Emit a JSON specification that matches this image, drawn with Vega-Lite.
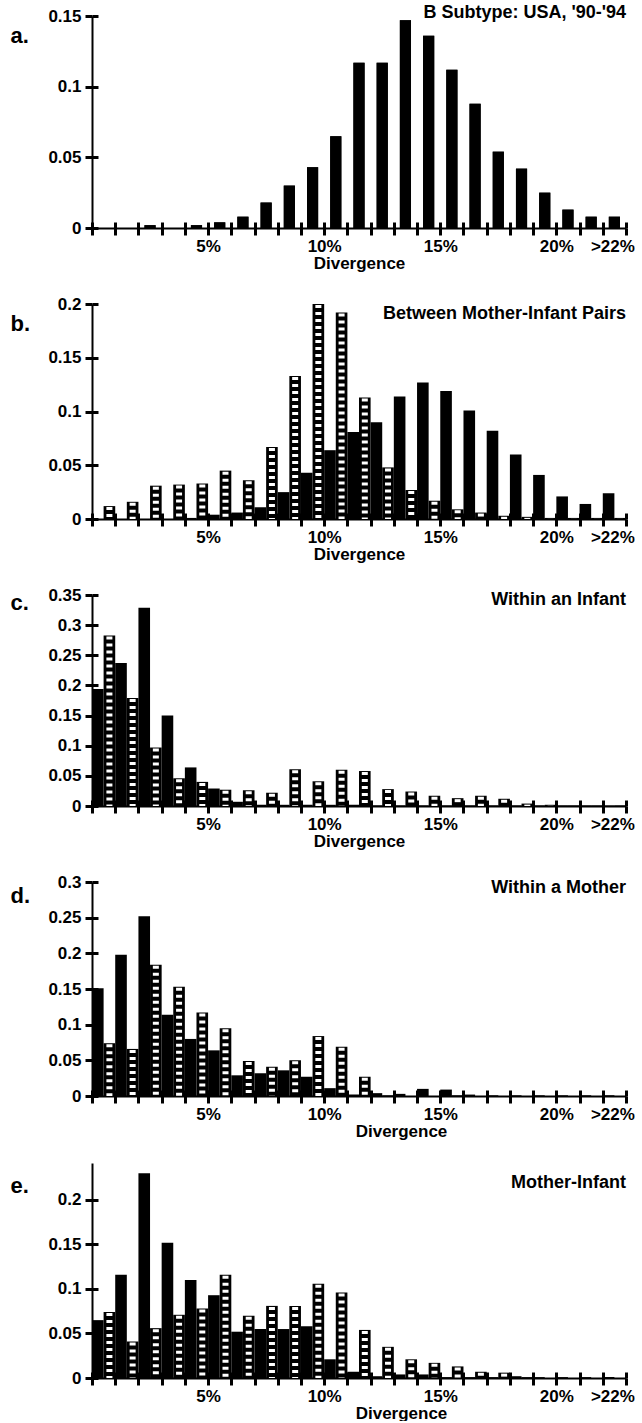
{
 "$schema": "https://vega.github.io/schema/vega-lite/v6.json",
 "padding": {"left": 10, "top": 4, "right": 0, "bottom": 0},
 "spacing": 24,
 "config": {
  "font": "Liberation Sans",
  "view": {"stroke": null},
  "axis": {"domainColor": "#000", "domainWidth": 2, "tickColor": "#000", "tickWidth": 3, "tickSize": 7, "ticks": true, "labelFont": "Liberation Sans", "labelFontSize": 17, "labelFontWeight": "bold", "labelColor": "#000", "titleFont": "Liberation Sans", "titleFontSize": 17, "titleFontWeight": "bold", "titleColor": "#000", "grid": false},
  "title": {"font": "Liberation Sans", "fontSize": 18, "fontWeight": "bold", "color": "#000", "anchor": "end", "frame": "group"}
 },
 "data": {"values": [
  {"p":"a","k":2,"s":"black","v":0.002},{"p":"a","k":4,"s":"black","v":0.002},{"p":"a","k":5,"s":"black","v":0.004},{"p":"a","k":6,"s":"black","v":0.008},{"p":"a","k":7,"s":"black","v":0.018},{"p":"a","k":8,"s":"black","v":0.030},{"p":"a","k":9,"s":"black","v":0.043},{"p":"a","k":10,"s":"black","v":0.065},{"p":"a","k":11,"s":"black","v":0.117},{"p":"a","k":12,"s":"black","v":0.117},{"p":"a","k":13,"s":"black","v":0.147},{"p":"a","k":14,"s":"black","v":0.136},{"p":"a","k":15,"s":"black","v":0.112},{"p":"a","k":16,"s":"black","v":0.088},{"p":"a","k":17,"s":"black","v":0.054},{"p":"a","k":18,"s":"black","v":0.042},{"p":"a","k":19,"s":"black","v":0.025},{"p":"a","k":20,"s":"black","v":0.013},{"p":"a","k":21,"s":"black","v":0.008},{"p":"a","k":22,"s":"black","v":0.008},

  {"p":"b","k":4,"s":"black","v":0.001},{"p":"b","k":5,"s":"black","v":0.004},{"p":"b","k":6,"s":"black","v":0.006},{"p":"b","k":7,"s":"black","v":0.011},{"p":"b","k":8,"s":"black","v":0.025},{"p":"b","k":9,"s":"black","v":0.043},{"p":"b","k":10,"s":"black","v":0.064},{"p":"b","k":11,"s":"black","v":0.081},{"p":"b","k":12,"s":"black","v":0.090},{"p":"b","k":13,"s":"black","v":0.114},{"p":"b","k":14,"s":"black","v":0.127},{"p":"b","k":15,"s":"black","v":0.119},{"p":"b","k":16,"s":"black","v":0.101},{"p":"b","k":17,"s":"black","v":0.082},{"p":"b","k":18,"s":"black","v":0.060},{"p":"b","k":19,"s":"black","v":0.041},{"p":"b","k":20,"s":"black","v":0.021},{"p":"b","k":21,"s":"black","v":0.014},{"p":"b","k":22,"s":"black","v":0.024},
  {"p":"b","k":0,"s":"hatched","v":0.012},{"p":"b","k":1,"s":"hatched","v":0.016},{"p":"b","k":2,"s":"hatched","v":0.031},{"p":"b","k":3,"s":"hatched","v":0.032},{"p":"b","k":4,"s":"hatched","v":0.033},{"p":"b","k":5,"s":"hatched","v":0.045},{"p":"b","k":6,"s":"hatched","v":0.036},{"p":"b","k":7,"s":"hatched","v":0.067},{"p":"b","k":8,"s":"hatched","v":0.133},{"p":"b","k":9,"s":"hatched","v":0.2},{"p":"b","k":10,"s":"hatched","v":0.192},{"p":"b","k":11,"s":"hatched","v":0.113},{"p":"b","k":12,"s":"hatched","v":0.048},{"p":"b","k":13,"s":"hatched","v":0.027},{"p":"b","k":14,"s":"hatched","v":0.017},{"p":"b","k":15,"s":"hatched","v":0.009},{"p":"b","k":16,"s":"hatched","v":0.006},{"p":"b","k":17,"s":"hatched","v":0.003},{"p":"b","k":18,"s":"hatched","v":0.002},{"p":"b","k":19,"s":"hatched","v":0.001},{"p":"b","k":20,"s":"hatched","v":0.001},{"p":"b","k":21,"s":"hatched","v":0.001},{"p":"b","k":22,"s":"hatched","v":0.001},

  {"p":"c","k":0,"s":"black","v":0.194},{"p":"c","k":1,"s":"black","v":0.237},{"p":"c","k":2,"s":"black","v":0.329},{"p":"c","k":3,"s":"black","v":0.150},{"p":"c","k":4,"s":"black","v":0.064},{"p":"c","k":5,"s":"black","v":0.029},{"p":"c","k":6,"s":"black","v":0.007},{"p":"c","k":7,"s":"black","v":0.002},{"p":"c","k":8,"s":"black","v":0.002},{"p":"c","k":9,"s":"black","v":0.002},{"p":"c","k":10,"s":"black","v":0.002},{"p":"c","k":11,"s":"black","v":0.002},{"p":"c","k":12,"s":"black","v":0.001},{"p":"c","k":13,"s":"black","v":0.001},{"p":"c","k":14,"s":"black","v":0.001},{"p":"c","k":15,"s":"black","v":0.001},{"p":"c","k":16,"s":"black","v":0.001},{"p":"c","k":17,"s":"black","v":0.001},{"p":"c","k":18,"s":"black","v":0.001},{"p":"c","k":19,"s":"black","v":0.001},{"p":"c","k":20,"s":"black","v":0.001},{"p":"c","k":21,"s":"black","v":0.001},{"p":"c","k":22,"s":"black","v":0.001},
  {"p":"c","k":0,"s":"hatched","v":0.283},{"p":"c","k":1,"s":"hatched","v":0.179},{"p":"c","k":2,"s":"hatched","v":0.097},{"p":"c","k":3,"s":"hatched","v":0.046},{"p":"c","k":4,"s":"hatched","v":0.040},{"p":"c","k":5,"s":"hatched","v":0.027},{"p":"c","k":6,"s":"hatched","v":0.026},{"p":"c","k":7,"s":"hatched","v":0.022},{"p":"c","k":8,"s":"hatched","v":0.061},{"p":"c","k":9,"s":"hatched","v":0.041},{"p":"c","k":10,"s":"hatched","v":0.060},{"p":"c","k":11,"s":"hatched","v":0.058},{"p":"c","k":12,"s":"hatched","v":0.028},{"p":"c","k":13,"s":"hatched","v":0.024},{"p":"c","k":14,"s":"hatched","v":0.017},{"p":"c","k":15,"s":"hatched","v":0.013},{"p":"c","k":16,"s":"hatched","v":0.017},{"p":"c","k":17,"s":"hatched","v":0.012},{"p":"c","k":18,"s":"hatched","v":0.004},{"p":"c","k":19,"s":"hatched","v":0.002},{"p":"c","k":20,"s":"hatched","v":0.001},{"p":"c","k":21,"s":"hatched","v":0.001},{"p":"c","k":22,"s":"hatched","v":0.001},

  {"p":"d","k":0,"s":"black","v":0.151},{"p":"d","k":1,"s":"black","v":0.198},{"p":"d","k":2,"s":"black","v":0.252},{"p":"d","k":3,"s":"black","v":0.114},{"p":"d","k":4,"s":"black","v":0.080},{"p":"d","k":5,"s":"black","v":0.064},{"p":"d","k":6,"s":"black","v":0.029},{"p":"d","k":7,"s":"black","v":0.032},{"p":"d","k":8,"s":"black","v":0.036},{"p":"d","k":9,"s":"black","v":0.027},{"p":"d","k":10,"s":"black","v":0.011},{"p":"d","k":11,"s":"black","v":0.002},{"p":"d","k":12,"s":"black","v":0.004},{"p":"d","k":13,"s":"black","v":0.003},{"p":"d","k":14,"s":"black","v":0.010},{"p":"d","k":15,"s":"black","v":0.009},{"p":"d","k":16,"s":"black","v":0.002},{"p":"d","k":17,"s":"black","v":0.001},{"p":"d","k":18,"s":"black","v":0.001},{"p":"d","k":19,"s":"black","v":0.001},{"p":"d","k":20,"s":"black","v":0.001},{"p":"d","k":21,"s":"black","v":0.001},{"p":"d","k":22,"s":"black","v":0.001},
  {"p":"d","k":0,"s":"hatched","v":0.074},{"p":"d","k":1,"s":"hatched","v":0.066},{"p":"d","k":2,"s":"hatched","v":0.184},{"p":"d","k":3,"s":"hatched","v":0.153},{"p":"d","k":4,"s":"hatched","v":0.117},{"p":"d","k":5,"s":"hatched","v":0.095},{"p":"d","k":6,"s":"hatched","v":0.049},{"p":"d","k":7,"s":"hatched","v":0.041},{"p":"d","k":8,"s":"hatched","v":0.050},{"p":"d","k":9,"s":"hatched","v":0.084},{"p":"d","k":10,"s":"hatched","v":0.069},{"p":"d","k":11,"s":"hatched","v":0.027},{"p":"d","k":12,"s":"hatched","v":0.001},{"p":"d","k":15,"s":"hatched","v":0.001},

  {"p":"e","k":0,"s":"black","v":0.065},{"p":"e","k":1,"s":"black","v":0.116},{"p":"e","k":2,"s":"black","v":0.230},{"p":"e","k":3,"s":"black","v":0.152},{"p":"e","k":4,"s":"black","v":0.110},{"p":"e","k":5,"s":"black","v":0.093},{"p":"e","k":6,"s":"black","v":0.052},{"p":"e","k":7,"s":"black","v":0.055},{"p":"e","k":8,"s":"black","v":0.055},{"p":"e","k":9,"s":"black","v":0.058},{"p":"e","k":10,"s":"black","v":0.021},{"p":"e","k":11,"s":"black","v":0.007},{"p":"e","k":12,"s":"black","v":0.002},{"p":"e","k":13,"s":"black","v":0.004},{"p":"e","k":14,"s":"black","v":0.004},{"p":"e","k":15,"s":"black","v":0.001},{"p":"e","k":16,"s":"black","v":0.001},{"p":"e","k":17,"s":"black","v":0.001},{"p":"e","k":18,"s":"black","v":0.002},{"p":"e","k":19,"s":"black","v":0.001},{"p":"e","k":20,"s":"black","v":0.001},{"p":"e","k":21,"s":"black","v":0.001},{"p":"e","k":22,"s":"black","v":0.001},
  {"p":"e","k":0,"s":"hatched","v":0.074},{"p":"e","k":1,"s":"hatched","v":0.041},{"p":"e","k":2,"s":"hatched","v":0.056},{"p":"e","k":3,"s":"hatched","v":0.071},{"p":"e","k":4,"s":"hatched","v":0.078},{"p":"e","k":5,"s":"hatched","v":0.116},{"p":"e","k":6,"s":"hatched","v":0.070},{"p":"e","k":7,"s":"hatched","v":0.081},{"p":"e","k":8,"s":"hatched","v":0.081},{"p":"e","k":9,"s":"hatched","v":0.106},{"p":"e","k":10,"s":"hatched","v":0.096},{"p":"e","k":11,"s":"hatched","v":0.054},{"p":"e","k":12,"s":"hatched","v":0.035},{"p":"e","k":13,"s":"hatched","v":0.021},{"p":"e","k":14,"s":"hatched","v":0.017},{"p":"e","k":15,"s":"hatched","v":0.013},{"p":"e","k":16,"s":"hatched","v":0.007},{"p":"e","k":17,"s":"hatched","v":0.006},{"p":"e","k":18,"s":"hatched","v":0.001}
 ]},
 "vconcat": [
  {
   "width": 534, "height": 212,
   "title": {"text": "B Subtype: USA, '90-'94", "offset": -15, "baseline": "top"},
   "transform": [{"filter": "datum.p === 'a'"}],
   "resolve": {"axis": {"x": "independent", "y": "independent"}},
   "layer": [
    {"mark": {"type": "bar", "color": "#000", "width": {"band": 0.48}},
     "encoding": {
      "x": {"field": "k", "type": "ordinal", "scale": {"domain": [0,1,2,3,4,5,6,7,8,9,10,11,12,13,14,15,16,17,18,19,20,21,22], "paddingInner": 0, "paddingOuter": 0},
       "axis": {"orient": "bottom", "title": "Divergence", "tickBand": "extent", "tickExtra": true, "labelAngle": 0, "labelOverlap": false, "labelPadding": 3, "titlePadding": 1,
        "labelExpr": "datum.value == 5 ? '5%' : datum.value == 10 ? '10%' : datum.value == 15 ? '15%' : datum.value == 20 ? '20%' : datum.value == 22 ? '>22%' : ''",
        "labelOffset": {"condition": {"test": "datum.value == 22", "value": -2}, "value": -11.6}}},
      "y": {"field": "v", "type": "quantitative", "scale": {"domain": [0, 0.15], "nice": false},
       "axis": {"orient": "left", "values": [0, 0.05, 0.1, 0.15], "format": ".2~f", "labelPadding": 4, "title": "a.", "titleAngle": 0, "titleAlign": "left", "titleBaseline": "middle", "titleX": -82, "titleY": 19, "titleFontSize": 22}}
     }},
    {"mark": {"type": "bar", "color": "#000", "width": {"band": 0.48}},
     "encoding": {
      "x": {"field": "k", "type": "ordinal", "axis": {"orient": "bottom", "title": null, "labels": false, "domain": false, "tickBand": "extent", "tickExtra": true, "tickSize": -6}},
      "y": {"field": "v", "type": "quantitative", "axis": {"orient": "left", "title": null, "labels": false, "domain": false, "values": [0, 0.05, 0.1, 0.15], "tickSize": -6}}
     }}
   ]
  },
  {
   "width": 534, "height": 215,
   "title": {"text": "Between Mother-Infant Pairs", "offset": -28, "baseline": "top"},
   "transform": [{"filter": "datum.p === 'b'"}],
   "resolve": {"axis": {"x": "independent", "y": "independent"}},
   "encoding": {
    "x": {"field": "k", "type": "ordinal", "scale": {"domain": [0,1,2,3,4,5,6,7,8,9,10,11,12,13,14,15,16,17,18,19,20,21,22], "paddingInner": 0, "paddingOuter": 0},
     "axis": {"orient": "bottom", "title": "Divergence", "tickBand": "extent", "tickExtra": true, "labelAngle": 0, "labelOverlap": false, "labelPadding": 3, "titlePadding": 1,
      "labelExpr": "datum.value == 5 ? '5%' : datum.value == 10 ? '10%' : datum.value == 15 ? '15%' : datum.value == 20 ? '20%' : datum.value == 22 ? '>22%' : ''",
      "labelOffset": {"condition": {"test": "datum.value == 22", "value": -2}, "value": -11.6}}},
    "xOffset": {"field": "s", "type": "nominal", "scale": {"domain": ["black", "hatched"], "paddingInner": 0, "paddingOuter": 0}},
    "y": {"field": "v", "type": "quantitative", "scale": {"domain": [0, 0.2], "nice": false},
     "axis": {"orient": "left", "values": [0, 0.05, 0.1, 0.15, 0.2], "format": ".2~f", "labelPadding": 4, "title": "b.", "titleAngle": 0, "titleAlign": "left", "titleBaseline": "middle", "titleX": -82, "titleY": 19, "titleFontSize": 22}}
   },
   "layer": [
    {"mark": {"type": "bar", "color": "#000"}},
    {"transform": [{"filter": "datum.s === 'hatched'"}], "mark": {"type": "rule", "color": "#fff", "strokeWidth": 6, "strokeDash": [3, 4], "strokeDashOffset": 6, "strokeCap": "butt"},
     "encoding": {"y2": {"datum": 0},
      "x": {"field": "k", "type": "ordinal", "axis": {"orient": "bottom", "title": null, "labels": false, "domain": false, "tickBand": "extent", "tickExtra": true, "tickSize": -6}},
      "y": {"field": "v", "type": "quantitative", "axis": {"orient": "left", "title": null, "labels": false, "domain": false, "values": [0, 0.05, 0.1, 0.15, 0.2], "tickSize": -6}}}}
   ]
  },
  {
   "width": 534, "height": 211,
   "title": {"text": "Within an Infant", "offset": -23, "baseline": "top"},
   "transform": [{"filter": "datum.p === 'c'"}],
   "resolve": {"axis": {"x": "independent", "y": "independent"}},
   "encoding": {
    "x": {"field": "k", "type": "ordinal", "scale": {"domain": [0,1,2,3,4,5,6,7,8,9,10,11,12,13,14,15,16,17,18,19,20,21,22], "paddingInner": 0, "paddingOuter": 0},
     "axis": {"orient": "bottom", "title": "Divergence", "tickBand": "extent", "tickExtra": true, "labelAngle": 0, "labelOverlap": false, "labelPadding": 3, "titlePadding": 1,
      "labelExpr": "datum.value == 5 ? '5%' : datum.value == 10 ? '10%' : datum.value == 15 ? '15%' : datum.value == 20 ? '20%' : datum.value == 22 ? '>22%' : ''",
      "labelOffset": {"condition": {"test": "datum.value == 22", "value": -2}, "value": -11.6}}},
    "xOffset": {"field": "s", "type": "nominal", "scale": {"domain": ["black", "hatched"], "paddingInner": 0, "paddingOuter": 0}},
    "y": {"field": "v", "type": "quantitative", "scale": {"domain": [0, 0.35], "nice": false},
     "axis": {"orient": "left", "values": [0, 0.05, 0.1, 0.15, 0.2, 0.25, 0.3, 0.35], "format": ".2~f", "labelPadding": 4, "title": "c.", "titleAngle": 0, "titleAlign": "left", "titleBaseline": "middle", "titleX": -82, "titleY": 7, "titleFontSize": 22}}
   },
   "layer": [
    {"mark": {"type": "bar", "color": "#000"}},
    {"transform": [{"filter": "datum.s === 'hatched'"}], "mark": {"type": "rule", "color": "#fff", "strokeWidth": 6, "strokeDash": [3, 4], "strokeDashOffset": 6, "strokeCap": "butt"},
     "encoding": {"y2": {"datum": 0},
      "x": {"field": "k", "type": "ordinal", "axis": {"orient": "bottom", "title": null, "labels": false, "domain": false, "tickBand": "extent", "tickExtra": true, "tickSize": -6}},
      "y": {"field": "v", "type": "quantitative", "axis": {"orient": "left", "title": null, "labels": false, "domain": false, "values": [0, 0.05, 0.1, 0.15, 0.2, 0.25, 0.3, 0.35], "tickSize": -6}}}}
   ]
  },
  {
   "width": 534, "height": 214,
   "title": {"text": "Within a Mother", "offset": -24, "baseline": "top"},
   "transform": [{"filter": "datum.p === 'd'"}],
   "resolve": {"axis": {"x": "independent", "y": "independent"}},
   "encoding": {
    "x": {"field": "k", "type": "ordinal", "scale": {"domain": [0,1,2,3,4,5,6,7,8,9,10,11,12,13,14,15,16,17,18,19,20,21,22], "paddingInner": 0, "paddingOuter": 0},
     "axis": {"orient": "bottom", "title": "Divergence", "titleX": 309, "tickBand": "extent", "tickExtra": true, "labelAngle": 0, "labelOverlap": false, "labelPadding": 3, "titlePadding": 1,
      "labelExpr": "datum.value == 5 ? '5%' : datum.value == 10 ? '10%' : datum.value == 15 ? '15%' : datum.value == 20 ? '20%' : datum.value == 22 ? '>22%' : ''",
      "labelOffset": {"condition": {"test": "datum.value == 22", "value": -2}, "value": -11.6}}},
    "xOffset": {"field": "s", "type": "nominal", "scale": {"domain": ["black", "hatched"], "paddingInner": 0, "paddingOuter": 0}},
    "y": {"field": "v", "type": "quantitative", "scale": {"domain": [0, 0.3], "nice": false},
     "axis": {"orient": "left", "values": [0, 0.05, 0.1, 0.15, 0.2, 0.25, 0.3], "format": ".2~f", "labelPadding": 4, "title": "d.", "titleAngle": 0, "titleAlign": "left", "titleBaseline": "middle", "titleX": -82, "titleY": 13, "titleFontSize": 22}}
   },
   "layer": [
    {"mark": {"type": "bar", "color": "#000"}},
    {"transform": [{"filter": "datum.s === 'hatched'"}], "mark": {"type": "rule", "color": "#fff", "strokeWidth": 6, "strokeDash": [3, 4], "strokeDashOffset": 6, "strokeCap": "butt"},
     "encoding": {"y2": {"datum": 0},
      "x": {"field": "k", "type": "ordinal", "axis": {"orient": "bottom", "title": null, "labels": false, "domain": false, "tickBand": "extent", "tickExtra": true, "tickSize": -6}},
      "y": {"field": "v", "type": "quantitative", "axis": {"orient": "left", "title": null, "labels": false, "domain": false, "values": [0, 0.05, 0.1, 0.15, 0.2, 0.25, 0.3], "tickSize": -6}}}}
   ]
  },
  {
   "width": 534, "height": 215,
   "title": {"text": "Mother-Infant", "offset": -29, "baseline": "top"},
   "transform": [{"filter": "datum.p === 'e'"}],
   "resolve": {"axis": {"x": "independent", "y": "independent"}},
   "encoding": {
    "x": {"field": "k", "type": "ordinal", "scale": {"domain": [0,1,2,3,4,5,6,7,8,9,10,11,12,13,14,15,16,17,18,19,20,21,22], "paddingInner": 0, "paddingOuter": 0},
     "axis": {"orient": "bottom", "title": "Divergence", "titleX": 309, "tickBand": "extent", "tickExtra": true, "labelAngle": 0, "labelOverlap": false, "labelPadding": 3, "titlePadding": 1,
      "labelExpr": "datum.value == 5 ? '5%' : datum.value == 10 ? '10%' : datum.value == 15 ? '15%' : datum.value == 20 ? '20%' : datum.value == 22 ? '>22%' : ''",
      "labelOffset": {"condition": {"test": "datum.value == 22", "value": -2}, "value": -11.6}}},
    "xOffset": {"field": "s", "type": "nominal", "scale": {"domain": ["black", "hatched"], "paddingInner": 0, "paddingOuter": 0}},
    "y": {"field": "v", "type": "quantitative", "scale": {"domain": [0, 0.2415], "nice": false},
     "axis": {"orient": "left", "values": [0, 0.05, 0.1, 0.15, 0.2], "format": ".2~f", "labelPadding": 4, "title": "e.", "titleAngle": 0, "titleAlign": "left", "titleBaseline": "middle", "titleX": -82, "titleY": 22, "titleFontSize": 22}}
   },
   "layer": [
    {"mark": {"type": "bar", "color": "#000"}},
    {"transform": [{"filter": "datum.s === 'hatched'"}], "mark": {"type": "rule", "color": "#fff", "strokeWidth": 6, "strokeDash": [3, 4], "strokeDashOffset": 6, "strokeCap": "butt"},
     "encoding": {"y2": {"datum": 0},
      "x": {"field": "k", "type": "ordinal", "axis": {"orient": "bottom", "title": null, "labels": false, "domain": false, "tickBand": "extent", "tickExtra": true, "tickSize": -6}},
      "y": {"field": "v", "type": "quantitative", "axis": {"orient": "left", "title": null, "labels": false, "domain": false, "values": [0, 0.05, 0.1, 0.15, 0.2], "tickSize": -6}}}}
   ]
  }
 ]
}
